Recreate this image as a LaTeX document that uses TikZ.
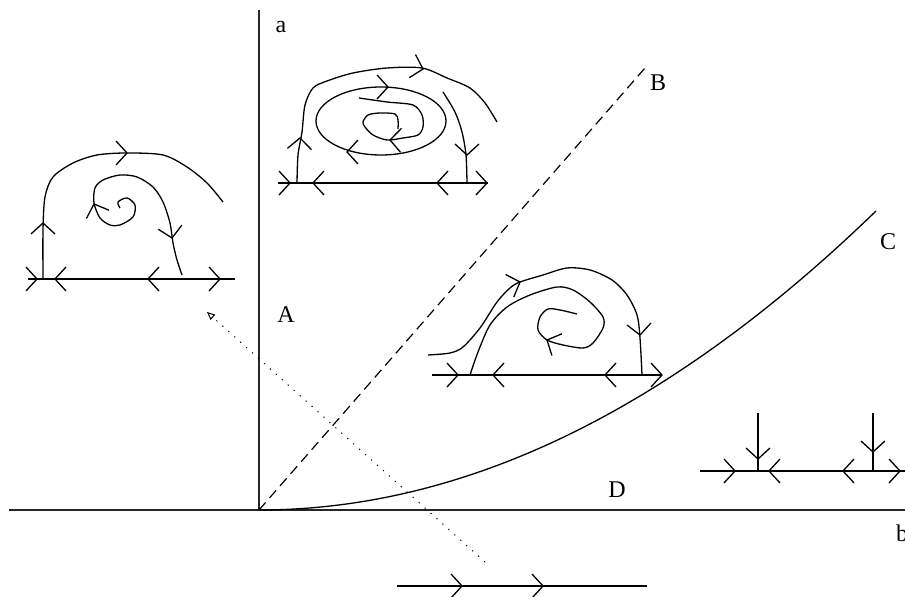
\documentclass[tikz,border=0pt]{standalone}
\usepackage{fontspec}
\setmainfont{Liberation Serif}
\usetikzlibrary{arrows.meta}
% open chevron on a flow line: position, direction
\newcommand{\chev}[2]{\draw[chev, shift={#1}, rotate=#2] (-11,-12) -- (0,0) -- (-11,12);}

\begin{document}
\begin{tikzpicture}[
    x=0.5pt, y=-0.5pt,
    axis/.style={line width=0.7pt, black!85},
    flow/.style={line width=0.65pt},
    chev/.style={line width=0.65pt},
    sep/.style={line width=0.6pt, dash pattern=on 5pt off 3pt},
    route/.style={line width=0.5pt, dash pattern=on 0.6pt off 3.4pt, -{Triangle[open, length=4pt, width=3.5pt]}},
    lbl/.style={inner sep=0pt, font=\large}
]
\useasboundingbox (0,0) rectangle (905,597);

% axes and regions
\coordinate (origin) at (259,510);
\coordinate (top) at (259,10);
\coordinate (left) at (9,510);
\coordinate (right) at (905,510);
\coordinate (bend) at (645,68);
\coordinate (cend) at (876,211);
\draw[axis] (origin) -- (top);
\draw[axis] (left) -- (right);
\draw[sep] (origin) -- (bend);
\draw[flow] (origin) .. controls (464.7,510) and (670.3,410.3) .. (cend);

\node[lbl] (la) at (281,27) {a};
\node[lbl] (lb) at (902,533) {b};
\node[lbl] (lB) at (658,83) {B};
\node[lbl] (lC) at (888,242) {C};
\node[lbl] (lA) at (286,315) {A};
\node[lbl] (lD) at (617,490) {D};

% path through the parameter plane
\coordinate (start) at (485,562);
\coordinate (finish) at (207,312);
\draw[route] (start) -- (finish);

% left portrait
\draw[flow] (28,279) -- (235,279);
\draw[flow] plot[smooth] coordinates {(43,279) (43,230) (45,197) (53,177) (73,163) (97,155) (127,153) (163,155) (187,167) (207,183) (223,202)};
\draw[flow] plot[smooth] coordinates {(120,208) (118,202) (127,198) (135,205) (133,217) (120,225) (110,225) (100,218) (94,203) (95,188) (103,180) (120,175) (137,177) (153,187) (163,202) (170,223) (173,243) (177,260) (182,275)};
\chev{(37,279)}{0}
\chev{(55,279)}{180}
\chev{(148,279)}{180}
\chev{(220,279)}{0}
\chev{(43,223)}{90}
\chev{(127,153)}{0}
\chev{(172,238)}{280}
\chev{(94,204)}{110}

% upper portrait
\draw[flow] (278,183) -- (488,183);
\draw[flow] plot[smooth] coordinates {(297,183) (298,155) (302,132) (305,105) (313,88) (327,81) (353,73) (387,68) (422,68) (447,78) (470,88) (485,103) (497,122)};
\draw[flow] (381,121) ellipse [x radius=65, y radius=34];
\draw[flow] plot[smooth] coordinates {(359,98) (387,102) (413,105) (422,115) (423,127) (418,135) (403,138) (387,140) (373,135) (365,127) (363,122) (368,115) (380,113) (395,114) (398,120) (398,129)};
\draw[flow] plot[smooth] coordinates {(443,92) (455,112) (462,132) (466,155) (467,183)};
\chev{(290,183)}{0}
\chev{(313,183)}{180}
\chev{(437,183)}{180}
\chev{(487,183)}{0}
\chev{(300,138)}{87}
\chev{(423,69)}{-15}
\chev{(388,87)}{0}
\chev{(347,152)}{180}
\chev{(390,140)}{178}
\chev{(467,155)}{270}

% middle portrait
\draw[flow] (432,375) -- (662,375);
\draw[flow] plot[smooth] coordinates {(428,355) (450,353) (463,347) (480,328) (497,302) (510,288) (520,282) (543,275) (567,268) (590,270) (612,280) (627,295) (637,315) (640,338) (642,375)};
\draw[flow] plot[smooth] coordinates {(470,375) (478,352) (490,325) (507,307) (530,295) (557,287) (573,290) (590,302) (603,317) (603,328) (593,343) (583,348) (563,345) (547,340) (538,330) (540,317) (548,309) (560,310) (577,314)};
\chev{(458,375)}{0}
\chev{(493,375)}{180}
\chev{(605,375)}{180}
\chev{(662,375)}{0}
\chev{(520,282)}{20}
\chev{(640,335)}{275}
\chev{(547,340)}{155}

% right portrait
\draw[flow] (700,471) -- (905,471);
\draw[flow] (758,413) -- (758,471);
\draw[flow] (873,413) -- (873,471);
\chev{(735,471)}{0}
\chev{(769,471)}{180}
\chev{(843,471)}{180}
\chev{(900,471)}{0}
\chev{(758,459)}{270}
\chev{(873,452)}{270}

% lower line
\draw[flow] (397,586) -- (647,586);
\chev{(462,586)}{0}
\chev{(543,586)}{0}
\end{tikzpicture}
\end{document}
